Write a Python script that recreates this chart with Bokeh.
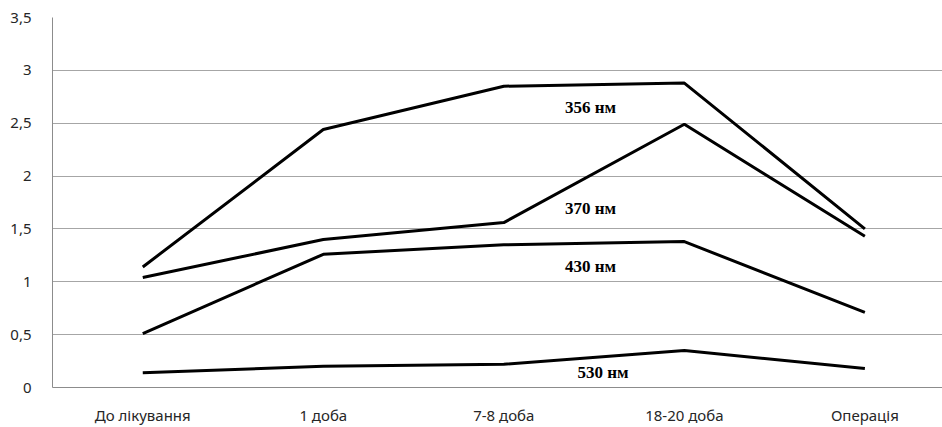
from bokeh.plotting import figure
from bokeh.models import FixedTicker, Range1d, Label
from bokeh.embed import file_html
from bokeh.resources import INLINE

categories = ["До лікування", "1 доба", "7-8 доба", "18-20 доба", "Операція"]
s356 = [1.14, 2.44, 2.85, 2.88, 1.50]
s370 = [1.04, 1.40, 1.56, 2.49, 1.43]
s430 = [0.51, 1.26, 1.35, 1.38, 0.71]
s530 = [0.14, 0.20, 0.22, 0.35, 0.18]
series_names = ["356 нм", "370 нм", "430 нм", "530 нм"]
y_ticks = [0, 0.5, 1, 1.5, 2, 2.5, 3, 3.5]

# label anchor positions (data coords)
label_x = [2.48, 2.48, 2.48, 2.55]
label_y = [2.645, 1.69, 1.145, 0.14]

xs = list(range(len(categories)))

p = figure(width=942, height=427, output_backend="svg", toolbar_location=None,
           x_range=Range1d(-0.5, 4.43), y_range=Range1d(0, 3.5),
           min_border_left=52, min_border_right=0, min_border_top=17, min_border_bottom=37)
p.outline_line_color = None
p.background_fill_color = "white"

for s in [s356, s370, s430, s530]:
    p.line(xs, s, line_color="black", line_width=3)

p.xgrid.grid_line_color = None
p.ygrid.grid_line_color = "#a6a6a6"
p.ygrid.grid_line_width = 1

p.yaxis.ticker = FixedTicker(ticks=y_ticks)
p.yaxis.major_label_overrides = {t: (str(t).replace(".", ",") if t != int(t) else str(int(t))) for t in y_ticks}
p.xaxis.ticker = FixedTicker(ticks=xs)
p.xaxis.major_label_overrides = {i: c for i, c in enumerate(categories)}

for ax in [p.xaxis[0], p.yaxis[0]]:
    ax.axis_line_color = "#8c8c8c"
    ax.axis_line_width = 1
    ax.major_tick_line_color = None
    ax.minor_tick_line_color = None
    ax.major_label_text_font = "Noto Sans"
    ax.major_label_text_font_size = "15px"
    ax.major_label_text_color = "#262626"
p.yaxis.major_label_standoff = 15
p.xaxis.major_label_standoff = 11

for name, lx, ly in zip(series_names, label_x, label_y):
    p.add_layout(Label(x=lx, y=ly, text=name, text_font="Liberation Serif",
                       text_font_style="bold", text_font_size="17px",
                       text_color="black", text_align="center", text_baseline="middle"))

open("out.html", "w").write(file_html(p, INLINE))
